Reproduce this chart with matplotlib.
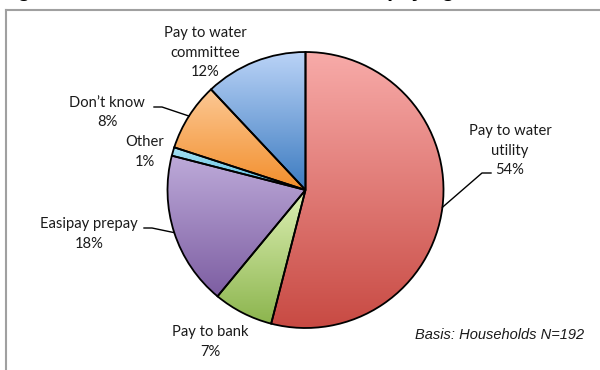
import numpy as np
import matplotlib.pyplot as plt
from matplotlib.colors import to_rgb
from matplotlib.lines import Line2D

# payment method shares (%)
labels = ["Pay to water\nutility", "Pay to bank", "Easipay prepay", "Other",
          "Don\u2019t know", "Pay to water\ncommittee"]
shares = [54, 7, 18, 1, 8, 12]
# top / bottom gradient colours per slice
tops = ["#F8ABA9", "#DDF0B4", "#BDAAD9", "#A6E0F2", "#FCC894", "#BAD3F7"]
bottoms = ["#C84A43", "#8CB54E", "#7D5EA2", "#55BDE0", "#F28E2B", "#3C7BC0"]

W, H = 600, 370
fig = plt.figure(figsize=(6, 3.7), dpi=100)
ax = fig.add_axes([0, 0, 1, 1])

cx, cy, r = 305.5, H - 190, 138
wedges, _ = ax.pie(shares, startangle=90, counterclock=False, radius=r,
                   center=(cx, cy),
                   wedgeprops=dict(facecolor="none", edgecolor="black",
                                   linewidth=1.3))

# vertical gradient fill for each slice, clipped to the slice
for w, c0, c1 in zip(wedges, tops, bottoms):
    v = w.get_path().vertices
    y0, y1 = v[:, 1].min(), v[:, 1].max()
    x0, x1 = v[:, 0].min(), v[:, 0].max()
    t = np.linspace(0, 1, 128)[:, None]
    grad = (1 - t) * np.array(to_rgb(c0)) + t * np.array(to_rgb(c1))
    im = ax.imshow(grad[:, None, :], extent=(x0, x1, y0, y1), origin="upper",
                   aspect="auto", interpolation="bilinear", zorder=1)
    im.set_clip_path(w)
    w.set_zorder(2)

font = dict(family=["Lato", "DejaVu Sans"], fontsize=10.6, color="#1a1a1a",
            ha="center", va="center", linespacing=1.5)

# label positions (x, y from top)
pos = [(510, 151), (210, 342), (89, 234), (145, 152), (107, 112.5), (205, 53)]
for lab, s, (x, y) in zip(labels, shares, pos):
    ax.text(x, H - y, f"{lab}\n{s}%", **font)

def edge_point(i):
    w = wedges[i]
    a = np.deg2rad((w.theta1 + w.theta2) / 2)
    return cx + r * np.cos(a), cy + r * np.sin(a)

# leader lines
leaders = {0: [(491, 173), (482, 173)],
           2: [(144, 228), (152, 228)],
           4: [(154, 107), (162, 107)]}
for i, pts in leaders.items():
    ex, ey = edge_point(i)
    xs = [p[0] for p in pts] + [ex]
    ys = [H - p[1] for p in pts] + [ey]
    ax.plot(xs, ys, color="black", lw=1.0, zorder=3)

ax.text(500, H - 335, "Basis: Households N=192", family="Liberation Sans",
        style="italic", fontsize=10.5, ha="center", va="center", color="#1a1a1a")

# outer frame
fig.add_artist(Line2D([6 / W, 6 / W], [0, 1 - 10 / H], color="#a0a0a0", lw=1.5))
fig.add_artist(Line2D([6 / W, 1], [1 - 10 / H, 1 - 10 / H], color="#a0a0a0", lw=1.5))

# title, mostly cut off at the top edge
fig.text(-0.002, 1 + 3 / H, "Figure 13: Households\u2019 main means of paying for water",
         family="Liberation Sans", weight="bold", fontsize=15, va="baseline",
         ha="left")

ax.set_xlim(0, W)
ax.set_ylim(0, H)
ax.set_aspect("auto")
ax.axis("off")
fig.savefig("out.png", dpi=100)
